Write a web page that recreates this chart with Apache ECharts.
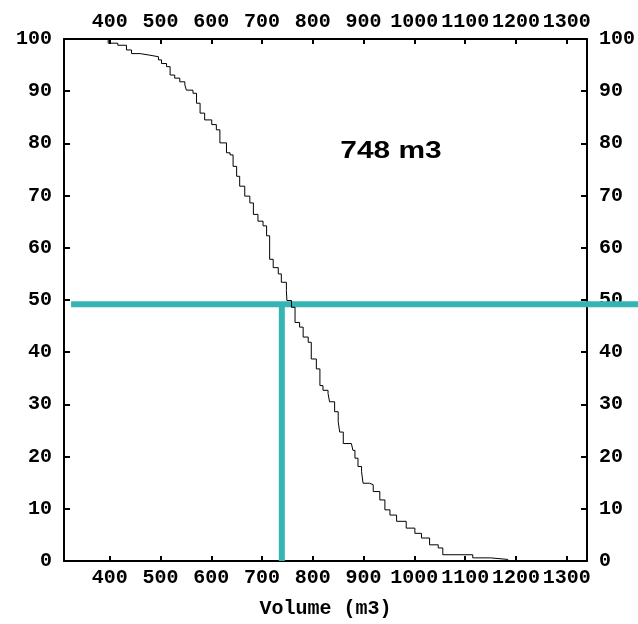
<!DOCTYPE html>
<html><head><meta charset="utf-8">
<script src="https://cdn.jsdelivr.net/npm/echarts@6/dist/echarts.min.js"></script>
<style>html,body{margin:0;padding:0;background:#fff}#c{width:638px;height:624px}</style>
</head><body><div id="c"></div>
<script>
const volumes = [385,397,416,433,443,460,479,496,502,512,519,528,538,548,551,564,571,578,587,601,610,617,630,637,643,650,656,666,676,683,692,702,709,715,722,732,738,748,749,758,765,774,781,791,797,807,814,820,830,833,843,850,853,860,876,879,883,889,896,899,912,919,932,942,952,965,984,1001,1014,1030,1047,1056,1115,1150,1184];
const percents = [100,99.2,98.8,97.9,97.2,96.9,96.6,96.0,95.3,94.7,93.1,92.5,91.8,91.2,90.2,89.6,87.7,85.8,84.5,83.6,82.6,80.1,78.2,77.8,75.6,73.7,71.8,69.9,68.6,66.4,65.1,64.2,62.3,57.8,56.2,55.0,53.4,51.8,49.9,48.6,45.7,44.8,42.9,41.9,38.7,36.8,33.6,32.7,32.1,30.5,28.6,26.7,24.7,22.5,22.2,21.2,19.7,18.1,17.1,14.9,14.6,13.3,11.7,9.8,8.8,7.6,6.3,5.3,4.4,3.1,2.5,1.2,0.6,0.3,0];
const xTickValues = [400,500,600,700,800,900,1000,1100,1200,1300];
const yTickValues = [0,10,20,30,40,50,60,70,80,90,100];
const xMin = 310, xMax = 1340;
const yMin = 0, yMax = 100;
const medianLabel = '748 m3';
const cutoffVolume = 739;
const cutoffPercent = 49.2;
const guideStart = 324;
const xTitle = 'Volume (m3)';

const chart = echarts.init(document.getElementById('c'), null, {renderer: 'canvas'});
const labelFont = {fontFamily: 'Liberation Mono', fontWeight: 'bold', fontSize: 20, color: '#000'};
const lineStyle = {color: '#000', width: 2};
const plain = v => String(v);
function makeX(pos, withName) {
  const a = {
    type: 'value', position: pos, min: xMin, max: xMax,
    axisLine: {show: true, onZero: false, lineStyle: lineStyle},
    axisTick: {show: true, inside: true, length: 5, lineStyle: lineStyle, customValues: xTickValues},
    axisLabel: Object.assign({margin: 7, customValues: xTickValues, formatter: plain, hideOverlap: false, showMinLabel: true, showMaxLabel: true}, labelFont),
    splitLine: {show: false}
  };
  if (withName) {
    a.name = xTitle; a.nameLocation = 'middle'; a.nameGap = 38;
    a.nameTextStyle = {fontFamily: 'Liberation Mono', fontWeight: 'bold', fontSize: 20, color: '#000'};
  }
  return a;
}
function makeY(pos) {
  return {
    type: 'value', position: pos, min: yMin, max: yMax, interval: 10,
    axisLine: {show: true, onZero: false, lineStyle: lineStyle},
    axisTick: {show: true, inside: true, length: 6, lineStyle: lineStyle, customValues: yTickValues},
    axisLabel: Object.assign({margin: 12, customValues: yTickValues, formatter: plain}, labelFont),
    splitLine: {show: false}
  };
}
const teal = '#36b4b4';
chart.setOption({
  animation: false,
  backgroundColor: '#fff',
  grid: {left: 64, right: 50, top: 39, bottom: 61, containLabel: false},
  xAxis: [makeX('bottom', true), makeX('top', false)],
  yAxis: [makeY('left'), makeY('right')],
  series: [
    {type: 'line', xAxisIndex: 0, yAxisIndex: 0, clip: false, silent: true, symbol: 'none',
     lineStyle: {color: teal, width: 6, cap: 'butt'},
     data: [[cutoffVolume, cutoffPercent], [cutoffVolume, yMin]]},
    {type: 'line', xAxisIndex: 0, yAxisIndex: 0, step: 'end', symbol: 'none', silent: true,
     lineStyle: {color: '#000', width: 1}, z: 3,
     data: volumes.map((v, i) => [v, percents[i]])}
  ],
  graphic: [{
    type: 'text', x: 391, y: 152, scaleX: 1.3, z: 100,
    style: {text: medianLabel, font: 'bold 23px "Liberation Sans", Arial, sans-serif',
            fill: '#000', textAlign: 'center', textVerticalAlign: 'middle'}
  }]
});
// horizontal guide: starts at guideStart on the data scale and runs to the right edge of the canvas
const p = chart.convertToPixel({xAxisIndex: 0, yAxisIndex: 0}, [guideStart, cutoffPercent]);
chart.setOption({graphic: [{
  type: 'text', x: 391, y: 152, scaleX: 1.3, z: 100,
  style: {text: medianLabel, font: 'bold 23px "Liberation Sans", Arial, sans-serif',
          fill: '#000', textAlign: 'center', textVerticalAlign: 'middle'}
}, {
  type: 'line', z: 1, silent: true,
  shape: {x1: p[0], y1: p[1], x2: chart.getWidth(), y2: p[1]},
  style: {stroke: teal, lineWidth: 6, lineCap: 'butt'}
}]});
</script>
</body></html>
